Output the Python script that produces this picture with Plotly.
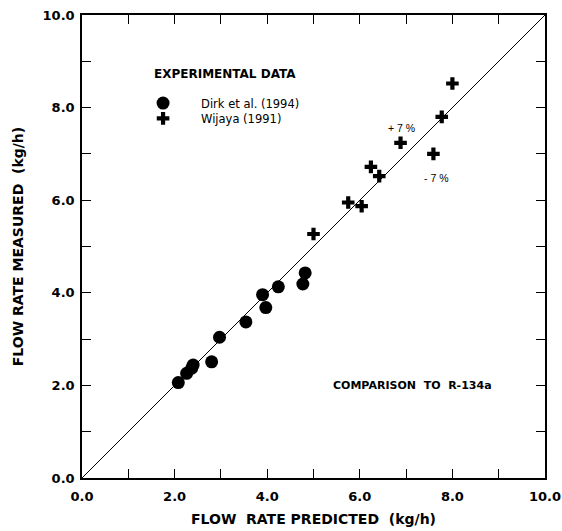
import plotly.graph_objects as go

# Dirk et al. (1994) - circles
dirk_pred = [2.08, 2.26, 2.37, 2.40, 2.80, 2.97, 3.54, 3.90, 3.97, 4.24, 4.82, 4.77]
dirk_meas = [2.06, 2.26, 2.37, 2.44, 2.51, 3.04, 3.37, 3.96, 3.68, 4.13, 4.43, 4.19]

# Wijaya (1991) - crosses
wij_pred = [5.00, 5.75, 6.04, 6.24, 6.42, 6.88, 7.59, 7.77, 8.00]
wij_meas = [5.27, 5.95, 5.87, 6.72, 6.52, 7.24, 7.00, 7.80, 8.52]

# Perfect agreement line
line_x = [0.0, 10.0]
line_y = [0.0, 10.0]

tick_vals = [0, 1, 2, 3, 4, 5, 6, 7, 8, 9, 10]
tick_text = ["0.0", "", "2.0", "", "4.0", "", "6.0", "", "8.0", "", "10.0"]

FONT = "Liberation Sans, Arial, sans-serif"
BFONT = "DejaVu Sans, Liberation Sans, sans-serif"

fig = go.Figure()
fig.add_trace(go.Scatter(x=line_x, y=line_y, mode="lines",
                         line=dict(color="black", width=1), showlegend=False,
                         hoverinfo="skip"))
fig.add_trace(go.Scatter(x=dirk_pred, y=dirk_meas, mode="markers",
                         name="Dirk et al. (1994)", legend="legend",
                         marker=dict(symbol="circle", size=13, color="black")))
fig.add_trace(go.Scatter(x=wij_pred, y=wij_meas, mode="markers",
                         name="Wijaya (1991)", legend="legend2",
                         marker=dict(symbol="cross", size=10.5, color="black")))

axis_common = dict(
    range=[0, 10], tickvals=tick_vals, ticktext=tick_text,
    ticks="inside", ticklen=9, tickwidth=1.3, tickcolor="black",
    showline=True, linecolor="black", linewidth=1.5, mirror="ticks",
    showgrid=False, zeroline=False, automargin=False,
    tickfont=dict(family=BFONT, size=13, color="black", weight="bold"),
)

fig.update_xaxes(**axis_common,
                 title=dict(text="FLOW  RATE PREDICTED  (kg/h)",
                            font=dict(family=BFONT, size=14, color="black", weight="bold"),
                            standoff=11),
                 ticklabelstandoff=6)
fig.update_yaxes(**axis_common,
                 title=dict(text="FLOW RATE MEASURED  (kg/h)",
                            font=dict(family=BFONT, size=14, color="black", weight="bold"),
                            standoff=16),
                 ticklabelstandoff=3)

fig.add_annotation(x=6.9, y=7.55, text="+ 7 %", showarrow=False,
                   font=dict(family=FONT, size=10.5, color="black"))
fig.add_annotation(x=7.66, y=6.47, text="- 7 %", showarrow=False,
                   font=dict(family=FONT, size=10.5, color="black"))
fig.add_annotation(x=7.13, y=2.0, text="COMPARISON  TO  R-134a", showarrow=False,
                   font=dict(family=BFONT, size=11, color="black", weight="bold"))
fig.add_annotation(xref="paper", yref="paper", x=0.151, y=0.872,
                   xanchor="left", yanchor="middle",
                   text="EXPERIMENTAL DATA", showarrow=False,
                   font=dict(family=BFONT, size=12, color="black", weight="bold"))

legend_common = dict(
    xanchor="left", yanchor="top", bgcolor="rgba(0,0,0,0)",
    font=dict(family="DejaVu Sans, sans-serif", size=11.5, color="black"), itemwidth=66,
)

fig.update_layout(
    width=562, height=531,
    margin=dict(l=82, r=17, t=15, b=53),
    paper_bgcolor="white", plot_bgcolor="white",
    showlegend=True,
    legend=dict(x=0.093, y=0.841, **legend_common),
    legend2=dict(x=0.093, y=0.808, **legend_common),
)

fig.write_html("out.html", config={"displayModeBar": False},
               post_script="document.body.style.margin='0px';")
